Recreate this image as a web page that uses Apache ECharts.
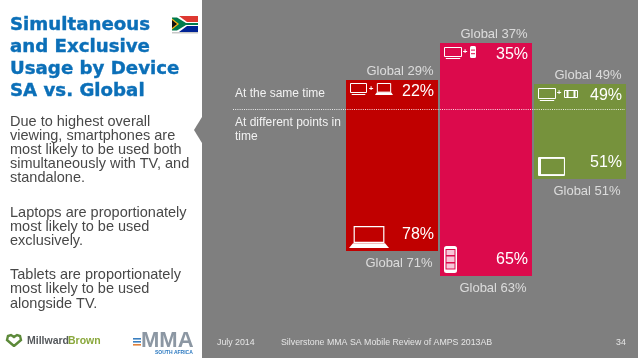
<!DOCTYPE html>
<html><head><meta charset="utf-8">
<style>html,body{margin:0;padding:0;background:#fff}#c{width:638px;height:359px}</style>
<script src="https://cdn.jsdelivr.net/npm/echarts@6/dist/echarts.min.js"></script>
</head><body><div id="c"></div>
<script>
const categories = ['Laptops', 'Smartphones', 'Tablets'];
// Drawn segment lengths as measured in the picture (the source bars are not proportional to their labels)
const segmentSameTime = [29, 66, 25];
const segmentDifferentTime = [-142, -167, -70];
// Printed labels
const shareSameTime = [22, 35, 49];
const shareDifferentTime = [78, 65, 51];
const globalSameTime = [29, 37, 49];
const globalDifferentTime = [71, 63, 51];
const barColors = ['#c00000', '#dc0a4c', '#76923c'];
const titleLines = ['Simultaneous', 'and Exclusive', 'Usage by Device', 'SA vs. Global'];
const bodyParagraphs = [
  'Due to highest overall\nviewing, smartphones are\nmost likely to be used both\nsimultaneously with TV, and\nstandalone.',
  'Laptops are proportionately\nmost likely to be used\nexclusively.',
  'Tablets are proportionately\nmost likely to be used\nalongside TV.'
];

const W = '#ffffff';
const txt = (x, y, text, size, color, extra) => ({type:'text', z:100, x, y, style:Object.assign({
  text, fontFamily:'Liberation Sans', fontSize:size, fill:color, verticalAlign:'middle'}, extra||{})});
const rect = (x,y,w,h,fill,z) => ({type:'rect', z:z||100, shape:{x,y,width:w,height:h}, style:{fill}});
const frame = (x,y,w,h,lw,r) => ({type:'rect', z:100, shape:{x,y,width:w,height:h,r:r||0}, style:{fill:'none',stroke:W,lineWidth:lw}});
const poly = (pts,fill,z) => ({type:'polygon', z:z||100, shape:{points:pts}, style:{fill}});
const plus = (x,y) => txt(x,y,'+',8,W,{fontWeight:'bold',align:'center'});

const laptop = (x,y,w,h,lw) => [frame(x+w*0.13,y+lw/2,w*0.74,h*0.72,lw),
  poly([[x+w*0.1,y+h*0.78],[x+w*0.9,y+h*0.78],[x+w,y+h],[x,y+h]],W)];
const tv = (x,y,w,h) => [frame(x+.5,y+.5,w-1,h-3,1), rect(x+w*0.1,y+h-1,w*0.8,1,W)];
const smallPhone = (x,y,w,h,bg) => [
  {type:'rect',z:100,shape:{x,y,width:w,height:h,r:1.5},style:{fill:W}},
  rect(x+1,y+h*0.3,w-2,1,bg), rect(x+1,y+h*0.6,w-2,1,bg)];
const bigPhone = (x,y,w,h,bg,cell) => [
  {type:'rect',z:100,shape:{x,y,width:w,height:h,r:2.5},style:{fill:W}},
  rect(x+1.5,y+3,w-3,h-6.5,bg),
  rect(x+2.5,y+4,w-5,5,cell), rect(x+2.5,y+10.5,w-5,5.5,cell), rect(x+2.5,y+17.5,w-5,5,cell)];
const tablet = (x,y,w,h,bg) => [
  {type:'rect',z:100,shape:{x,y,width:w,height:h,r:1},style:{fill:W}},
  rect(x+w*0.11,y+h*0.1,w*0.85,h*0.8,bg)];

const flag = [
  rect(172,16,26,8,'#de3831'), rect(172,24,26,8,'#002395'),
  poly([[172,16],[179,16],[187,22],[198,22],[198,26],[187,26],[179,32],[172,32]],'#ffffff'),
  poly([[172,17.5],[177,17.5],[186,23],[198,23],[198,25],[186,25],[177,30.5],[172,30.5]],'#007a4d'),
  poly([[172,18.5],[179,24],[172,29.5]],'#ffb612'),
  poly([[172,20],[177,24],[172,28]],'#111111'),
  rect(172,32,26,1.5,'#c8c8c8')
];

const logos = [
  {type:'polyline',z:100,shape:{points:[[14,346],[7,340],[8,336],[11,335],[14,337],[17,335],[20,336],[21,340],[14,346]]},style:{fill:'none',stroke:'#5d8a3a',lineWidth:2.4}},
  txt(27,341,'Millward',10.5,'#55595c',{fontWeight:'bold'}),
  txt(68,341,'Brown',10.5,'#8aa83c',{fontWeight:'bold'}),
  txt(141,341,'MMA',22,'#8c97a3',{fontWeight:'bold'}),
  rect(133,338,8,1.6,'#3a7fc0'), rect(133,341,8,1.6,'#3a7fc0'), rect(133,344,8,1.6,'#e0803a'),
  txt(155,352.5,'SOUTH AFRICA',5,'#2a78c0',{fontWeight:'bold'})
];

const bodyText = (y,t) => ({type:'text',z:100,x:10,y,style:{text:t,fontFamily:'Liberation Sans',fontSize:14.5,lineHeight:14.2,fill:'#484848'}});
const graphics = [
  rect(202,0,436,358,'#7f7f7f',1),
  poly([[202,117],[194,130],[202,143]],'#7f7f7f',1),
  ...titleLines.map((t,i)=>txt(10,25+i*22.1,t,18.2,'#0b6fb8',{fontWeight:'bold',fontFamily:'DejaVu Sans',stroke:'#0b6fb8',lineWidth:0.4})),
  bodyText(114.5,bodyParagraphs[0]), bodyText(205.5,bodyParagraphs[1]), bodyText(268,bodyParagraphs[2]),
  ...flag, ...logos,
  txt(235,94,'At the same time',12,'#f2f2f2'),
  {type:'text',z:100,x:235,y:116,style:{text:'At different points in\ntime',fontFamily:'Liberation Sans',fontSize:12,lineHeight:14,fill:'#f2f2f2'}},
  {type:'line',z:100,shape:{x1:233,y1:109.5,x2:625,y2:109.5},style:{stroke:'#ffffff',opacity:0.85,lineWidth:1,lineDash:[1,1.2]}},
  txt(217,343,'July 2014',8.8,'#e6e6e6'),
  txt(281,343,'Silverstone MMA SA Mobile Review of AMPS 2013AB',8.8,'#e6e6e6'),
  txt(616,343,'34',8.8,'#e6e6e6'),
  ...tv(350,83,17,12), plus(371,89), ...laptop(375,83,18,12,1),
  ...tv(444,47,18,12), plus(465,52), ...smallPhone(470,46,6,12,'#dc0a4c'),
  ...tv(538,88,18,13), plus(559,93), frame(564.5,90.5,13,7,1), rect(566.5,90,2,8,W), rect(573.5,90,2,8,W),
  ...tablet(538,157,27,19,'#76923c'),
  ...laptop(349,226,40,22,1.2),
  ...bigPhone(444,246,13,27,'#dc0a4c','#f7c6d8')
];

const shareLabel = (arr, pos, dist) => ({show:true, position:pos, distance:dist, color:'#fff', fontFamily:'Liberation Sans', fontSize:16,
  formatter:p=>arr[p.dataIndex]+'%'});
const globalLabelStyle = (arr,pos) => ({show:true, position:pos, color:'#f2f2f2', fontFamily:'Liberation Sans', fontSize:13,
  formatter:p=>'Global '+arr[p.dataIndex]+'%'});

const chart = echarts.init(document.getElementById('c'), null, {renderer:'canvas'});
chart.setOption({
  animation:false,
  backgroundColor:'#ffffff',
  graphic:{elements:graphics},
  grid:{left:345,width:282,top:0,height:359},
  xAxis:{type:'category',data:categories,show:false},
  yAxis:{type:'value',min:-250,max:109,show:false},
  series:[
    {name:'At the same time',type:'bar',stack:'u',barWidth:92,z:5,
     data:segmentSameTime.map((v,i)=>({value:v,itemStyle:{color:barColors[i]}})),
     label:shareLabel(shareSameTime,'insideTopRight',4)},
    {name:'At different points in time',type:'bar',stack:'u',barWidth:92,z:5,
     data:segmentDifferentTime.map((v,i)=>({value:v,itemStyle:{color:barColors[i]}})),
     label:Object.assign(shareLabel(shareDifferentTime,'insideBottomRight',4),{offset:[0,-4]})},
    {name:'Global same time',type:'scatter',symbolSize:0,z:6,
     data:segmentSameTime.map((v,i)=>[i,v]),
     label:Object.assign(globalLabelStyle(globalSameTime,'top'),{distance:2,offset:[8,0]})},
    {name:'Global different times',type:'scatter',symbolSize:0,z:6,
     data:segmentDifferentTime.map((v,i)=>[i,v]),
     label:Object.assign(globalLabelStyle(globalDifferentTime,'bottom'),{distance:6,offset:[7,0]})}
  ]
});
</script></body></html>
